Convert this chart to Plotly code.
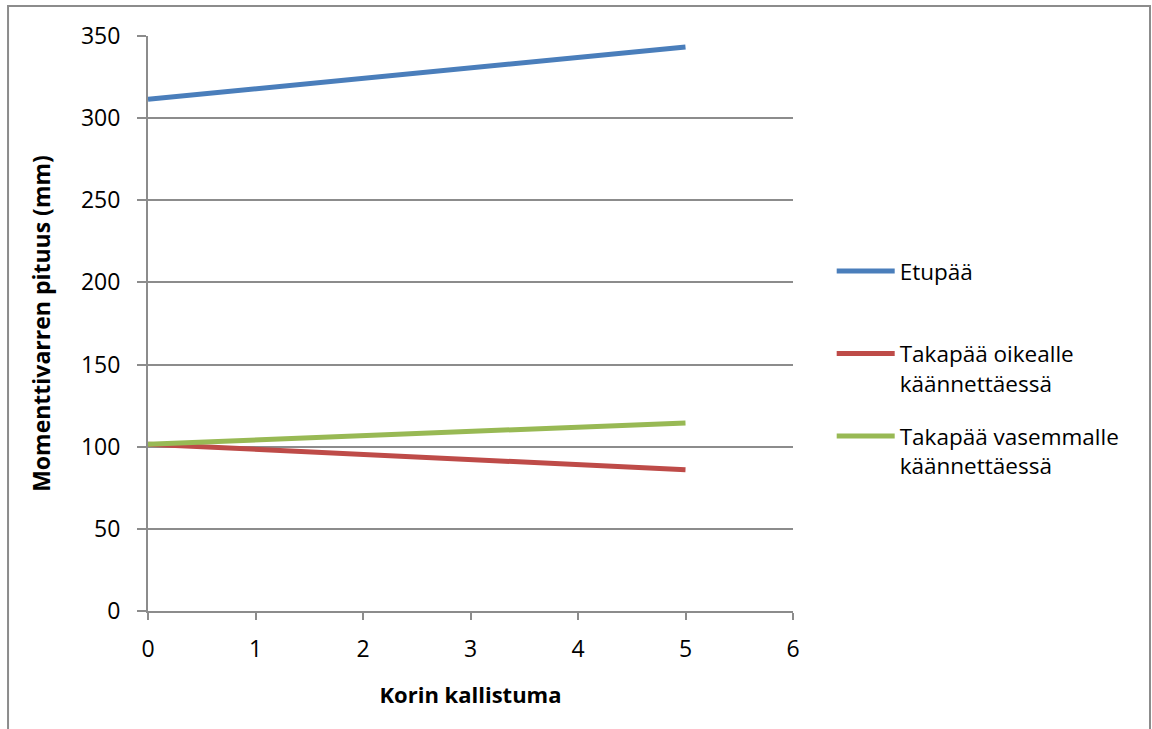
import plotly.graph_objects as go

# Body tilt (x) and moment arm lengths (mm)
kallistuma = [0, 1, 2, 3, 4, 5]
etupaa = [311.5, 317.9, 324.2, 330.6, 336.9, 343.3]
takapaa_oikealle = [101.5, 98.4, 95.3, 92.2, 89.1, 86.0]
takapaa_vasemmalle = [101.5, 104.1, 106.7, 109.3, 111.9, 114.5]

series = [
    ("Etupää<br>\u00a0", etupaa, "#4A7EBB"),
    ("Takapää oikealle<br>käännettäessä", takapaa_oikealle, "#BE4B48"),
    ("Takapää vasemmalle<br>käännettäessä", takapaa_vasemmalle, "#98B954"),
]

FONT = "'Open Sans', Lato, sans-serif"
GRID = "#8C8C8C"

fig = go.Figure()
for i, (name, vals, col) in enumerate(series):
    fig.add_trace(go.Scatter(
        x=kallistuma, y=vals, name=name, mode="lines",
        line=dict(color=col, width=5), legendgroup=str(i),
    ))

fig.update_layout(
    width=1152, height=729,
    margin=dict(l=148, r=359, t=36, b=118),
    paper_bgcolor="white", plot_bgcolor="white",
    font=dict(family=FONT, size=23, color="black"),
    showlegend=True,
    legend=dict(
        x=1.06, y=0.628, xanchor="left", yanchor="top",
        traceorder="grouped", tracegroupgap=21, valign="top",
        font=dict(size=22.5), itemwidth=58,
    ),
    xaxis=dict(
        range=[0, 6], tickvals=[0, 1, 2, 3, 4, 5, 6], showgrid=False,
        showline=True, linecolor=GRID, linewidth=2,
        ticks="outside", ticklen=7, tickwidth=2, tickcolor=GRID,
        zeroline=False, ticklabelstandoff=9,
        title=dict(text="<b>Korin kallistuma</b>", standoff=25,
                   font=dict(size=22)),
    ),
    yaxis=dict(
        range=[0, 350], tickvals=[0, 50, 100, 150, 200, 250, 300, 350],
        showgrid=True, gridcolor=GRID, gridwidth=2,
        showline=True, linecolor=GRID, linewidth=2,
        ticks="outside", ticklen=9, tickwidth=2, tickcolor=GRID,
        zeroline=False, ticklabelstandoff=12,
        title=dict(text="<b>Momenttivarren pituus (mm)</b>", standoff=24,
                   font=dict(size=23)),
    ),
    shapes=[dict(
        type="rect", xref="paper", yref="paper",
        x0=-0.217, x1=1.5535, y0=-0.25, y1=1.052,
        line=dict(color=GRID, width=2), fillcolor="rgba(0,0,0,0)",
        layer="below",
    )],
)

fig.write_html("out.html")
